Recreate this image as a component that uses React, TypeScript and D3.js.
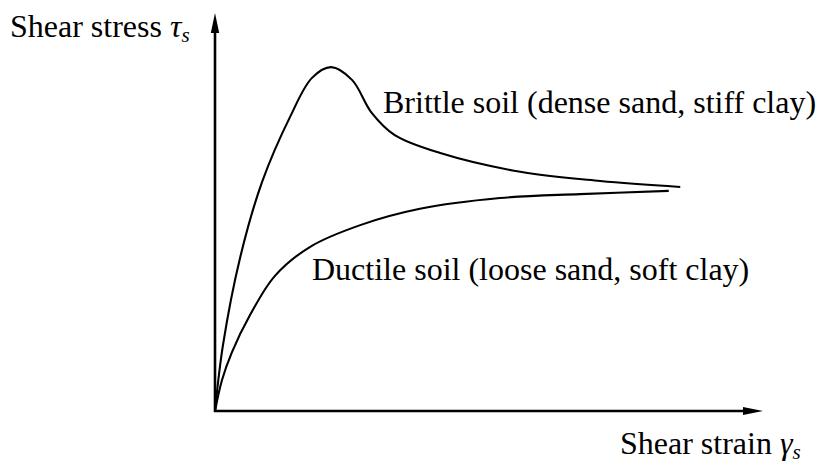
import React, { useEffect, useRef } from "react";
import * as d3 from "d3";

// shear strain (x) and shear stress (y), in % of the axis length
const brittleStrain = [0, 1.46, 4.56, 8.58, 13.7, 17.7, 21.2, 25.0, 28.6, 32.8, 41.1, 55.7, 70.3, 84.9];
const brittleStress = [0, 16.6, 38.4, 57.5, 73.9, 83.7, 86.4, 83.2, 74.9, 69.3, 64.8, 60.1, 57.8, 56.3];

const ductileStrain = [0, 1.28, 3.1, 6.39, 10.9, 17.3, 26.5, 37.4, 52.0, 66.6, 82.8];
const ductileStress = [0, 7.8, 14.8, 24.1, 33.9, 41.2, 46.7, 50.8, 53.5, 54.5, 55.3];

const brittleLabel = "Brittle soil (dense sand, stiff clay)";
const ductileLabel = "Ductile soil (loose sand, soft clay)";

const W = 825;
const H = 472;
const FONT = '"Liberation Serif", "Times New Roman", Times, serif';

function App() {
  const ref = useRef<SVGSVGElement>(null);

  useEffect(() => {
    const svg = d3.select(ref.current);
    svg.selectAll("*").remove();

    const x = d3.scaleLinear().domain([0, 100]).range([215, 763]);
    const y = d3.scaleLinear().domain([0, 100]).range([411, 13]);

    const g = svg.append("g");

    // axes with arrow heads
    const x0 = x(0), y0 = y(0), xEnd = x(100), yEnd = y(100);
    g.append("line")
      .attr("x1", x0).attr("y1", y0 + 1)
      .attr("x2", x0).attr("y2", yEnd + 10)
      .attr("stroke", "#000").attr("stroke-width", 2.6);
    g.append("path")
      .attr("d", `M${x0},${yEnd} L${x0 - 4.2},${yEnd + 20} L${x0 + 4.2},${yEnd + 20} Z`)
      .attr("fill", "#000");
    g.append("line")
      .attr("x1", x0 - 1).attr("y1", y0)
      .attr("x2", xEnd - 10).attr("y2", y0)
      .attr("stroke", "#000").attr("stroke-width", 2.6);
    g.append("path")
      .attr("d", `M${xEnd},${y0} L${xEnd - 20},${y0 - 4} L${xEnd - 20},${y0 + 4} Z`)
      .attr("fill", "#000");

    const line = d3
      .line<[number, number]>()
      .x(d => x(d[0]))
      .y(d => y(d[1]))
      .curve(d3.curveCatmullRom.alpha(0.5));

    const brittle = brittleStrain.map((v, i) => [v, brittleStress[i]] as [number, number]);
    const ductile = ductileStrain.map((v, i) => [v, ductileStress[i]] as [number, number]);

    g.selectAll("path.curve")
      .data([brittle, ductile])
      .join("path")
      .attr("class", "curve")
      .attr("d", d => line(d))
      .attr("fill", "none")
      .attr("stroke", "#000")
      .attr("stroke-width", 2.1);

    const text = (tx: number, ty: number) =>
      g.append("text")
        .attr("x", tx).attr("y", ty)
        .style("font-family", FONT)
        .style("font-size", "32px")
        .attr("fill", "#000");

    text(383, 113).text(brittleLabel);
    text(312, 280).text(ductileLabel);

    // axis titles
    const yt = text(10, 37);
    yt.append("tspan").text("Shear stress ");
    yt.append("tspan").style("font-style", "italic").text("τ");
    yt.append("tspan").style("font-style", "italic").style("font-size", "21px").attr("dy", 5).text("s");

    const xt = text(620, 454);
    xt.append("tspan").text("Shear strain ");
    xt.append("tspan").style("font-style", "italic").text("γ");
    xt.append("tspan").style("font-style", "italic").style("font-size", "21px").attr("dy", 5).text("s");
  });

  return (
    <svg
      ref={ref}
      width={W}
      height={H}
      style={{ position: "absolute", left: 0, top: 0, background: "#fff" }}
    />
  );
}

export default App;
